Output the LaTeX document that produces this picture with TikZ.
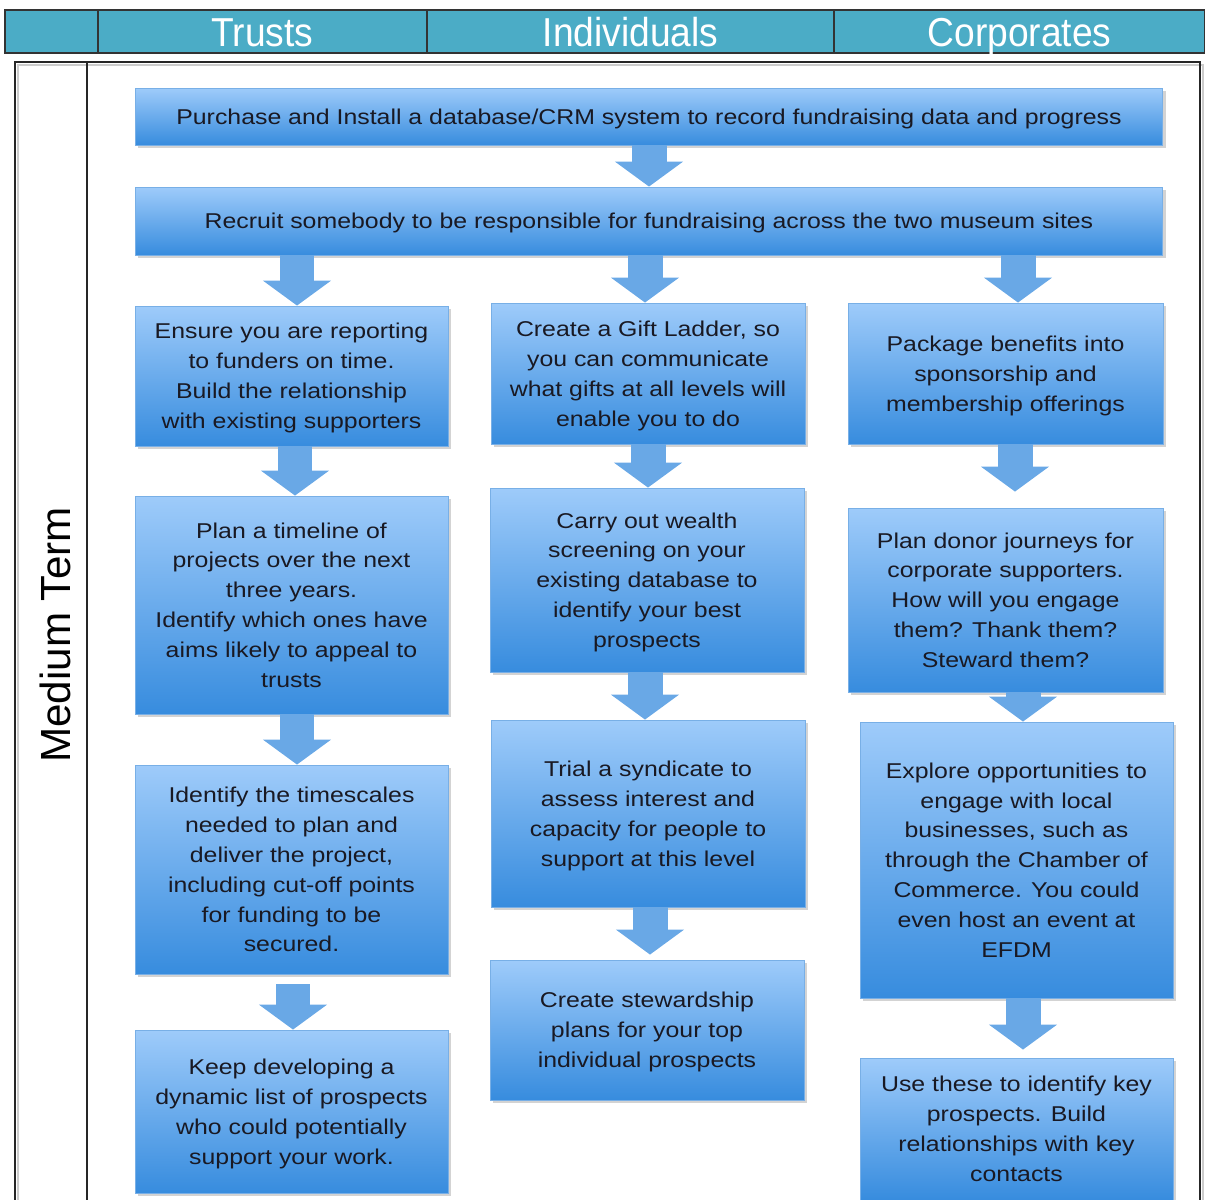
\documentclass[tikz,border=0pt]{standalone}
\usepackage{fontspec}
\setmainfont{Liberation Sans}
\newfontfamily\boxfont[FakeStretch=1.16]{Liberation Sans}
\newfontfamily\headfont[FakeStretch=0.92]{Liberation Sans}
\usetikzlibrary{arrows.meta,shadows}
\definecolor{headteal}{RGB}{75,172,198}
\definecolor{boxtop}{RGB}{158,203,250}
\definecolor{boxbot}{RGB}{55,140,222}
\definecolor{boxedge}{RGB}{120,175,230}
\definecolor{arrowblue}{RGB}{105,168,230}
\definecolor{boxtext}{RGB}{25,25,35}

\begin{document}
\begin{tikzpicture}[x=0.02cm,y=-0.02cm]
\tikzstyle{every node}=[inner sep=2pt]
\tikzstyle{headcell}=[draw=black!80, line width=0.8pt, fill=headteal, text=white, minimum height=0.86cm, text height=17pt, text depth=0pt, font=\headfont\fontsize{23}{25}\selectfont]
\tikzstyle{actbox}=[draw=boxedge, line width=0.5pt, top color=boxtop, bottom color=boxbot, text=boxtext, align=center, text depth=-2.5pt, font=\boxfont\fontsize{12.2}{17}\selectfont, drop shadow={shadow xshift=1.5pt, shadow yshift=-1.5pt, opacity=.35}]
\tikzstyle{blockarrow}=[draw=arrowblue, line width=0.7cm, line cap=butt, -{Triangle[width=1.34cm, length=0.5cm]}]
\useasboundingbox (0,0) rectangle (1205,1200);
% header row
\draw (51.5,31.5) node (hcorner) [headcell, minimum width=1.86cm] {};
\draw (262.5,31.5) node (htrusts) [headcell, minimum width=6.58cm] {Trusts};
\draw (630.5,31.5) node (hindiv) [headcell, minimum width=8.14cm] {Individuals};
\draw (1019.5,31.5) node (hcorp) [headcell, minimum width=7.42cm] {Corporates};
% frame
\draw[line width=1.2pt, black!20] (18,1215) -- (18,65) -- (1203,65) -- (1203,1215);
\draw[line width=1.2pt, black!85] (15,1215) -- (15,62) -- (1200,62) -- (1200,1215);
\draw[line width=1.2pt, black!85] (87,62) -- (87,1215);
\draw (55,635) node (term) [rotate=90, font=\fontsize{24}{26}\selectfont] {Medium Term};
% shared steps
\draw (649,116.5) node (crm) [actbox, minimum width=20.56cm, minimum height=1.14cm] {Purchase and Install a database/CRM system to record fundraising data and progress};
\draw (649,221) node (recruit) [actbox, minimum width=20.56cm, minimum height=1.36cm] {Recruit somebody to be responsible for fundraising across the two museum sites};
% trusts
\draw (291.5,376) node (t1) [actbox, minimum width=6.26cm, minimum height=2.8cm] {Ensure you are reporting\\to funders on time.\\Build the relationship\\with existing supporters};
\draw (291.5,605) node (t2) [actbox, minimum width=6.26cm, minimum height=4.36cm] {Plan a timeline of\\projects over the next\\three years.\\Identify which ones have\\aims likely to appeal to\\trusts};
\draw (291.5,869.5) node (t3) [actbox, minimum width=6.26cm, minimum height=4.18cm] {Identify the timescales\\needed to plan and\\deliver the project,\\including cut-off points\\for funding to be\\secured.};
\draw (291.5,1111.5) node (t4) [actbox, minimum width=6.26cm, minimum height=3.26cm] {Keep developing a\\dynamic list of prospects\\who could potentially\\support your work.};
% individuals
\draw (648,373.5) node (i1) [actbox, minimum width=6.28cm, minimum height=2.82cm] {Create a Gift Ladder, so\\you can communicate\\what gifts at all levels will\\enable you to do};
\draw (647,580) node (i2) [actbox, minimum width=6.28cm, minimum height=3.68cm] {Carry out wealth\\screening on your\\existing database to\\identify your best\\prospects};
\draw (648,813.5) node (i3) [actbox, minimum width=6.28cm, minimum height=3.74cm] {Trial a syndicate to\\assess interest and\\capacity for people to\\support at this level};
\draw (647,1030) node (i4) [actbox, minimum width=6.28cm, minimum height=2.8cm] {Create stewardship\\plans for your top\\individual prospects};
% corporates
\draw (1005.5,373.5) node (c1) [actbox, minimum width=6.3cm, minimum height=2.82cm] {Package benefits into\\sponsorship and\\membership offerings};
\draw (1005.5,600) node (c2) [actbox, minimum width=6.3cm, minimum height=3.68cm] {Plan donor journeys for\\corporate supporters.\\How will you engage\\them? Thank them?\\Steward them?};
\draw (1016.5,860) node (c3) [actbox, minimum width=6.26cm, minimum height=5.52cm] {Explore opportunities to\\engage with local\\businesses, such as\\through the Chamber of\\Commerce. You could\\even host an event at\\EFDM};
\draw (1016.5,1129) node (c4) [actbox, minimum width=6.26cm, minimum height=2.84cm] {Use these to identify key\\prospects. Build\\relationships with key\\contacts};
% arrows
\draw[blockarrow] (crm) -- (recruit);
\draw[blockarrow] (recruit.south -| 297,0) -- (t1.north -| 297,0);
\draw[blockarrow] (recruit.south -| 645,0) -- (i1.north -| 645,0);
\draw[blockarrow] (recruit.south -| 1018,0) -- (c1.north -| 1018,0);
\draw[blockarrow] (t1.south -| 295,0) -- (t2.north -| 295,0);
\draw[blockarrow] (t2.south -| 297,0) -- (t3.north -| 297,0);
\draw[blockarrow, shorten <=0.2cm] (t3.south -| 293,0) -- (t4.north -| 293,0);
\draw[blockarrow] (i1.south -| 648,0) -- (i2.north -| 648,0);
\draw[blockarrow] (i2.south -| 645,0) -- (i3.north -| 645,0);
\draw[blockarrow, shorten >=0.1cm] (i3.south -| 650,0) -- (i4.north -| 650,0);
\draw[blockarrow, shorten >=0.32cm] (c1.south -| 1015,0) -- (c2.north -| 1015,0);
\draw[blockarrow] (c2.south -| 1023,0) -- (c3.north -| 1023,0);
\draw[blockarrow, shorten >=0.16cm] (c3.south -| 1023,0) -- (c4.north -| 1023,0);
\end{tikzpicture}
\end{document}
